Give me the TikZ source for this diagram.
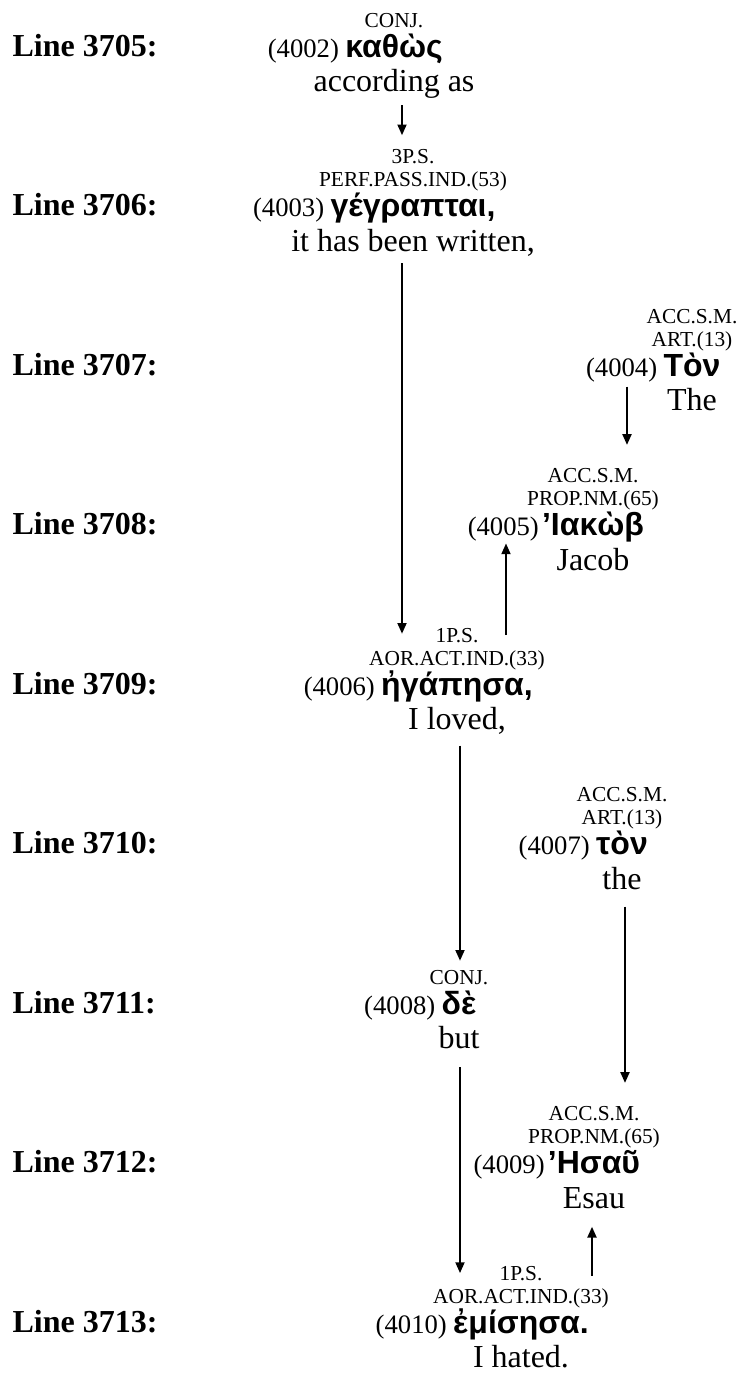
\documentclass[tikz,border=0pt]{standalone}
\usepackage{fontspec}
\setmainfont{Liberation Serif}
\newfontfamily\grk{Liberation Sans}
\usetikzlibrary{positioning,arrows.meta}

\begin{document}
\begin{tikzpicture}[x=0.375pt,y=-0.375pt,
    lbl/.style={font=\fontsize{12}{14}\selectfont\bfseries,anchor=base west,inner sep=0pt},
    wrd/.style={font=\fontsize{12}{14}\selectfont\grk\bfseries,anchor=base,inner sep=0pt},
    num/.style={font=\fontsize{10}{12}\selectfont,inner sep=0pt},
    prs/.style={font=\fontsize{8}{8.6}\selectfont,align=center,inner sep=0pt},
    gls/.style={font=\fontsize{12}{14}\selectfont,inner sep=0pt},
    arr/.style={line width=0.6pt,-{Triangle[length=4pt,width=3.4pt]}}]
  \useasboundingbox (0,0) rectangle (739,1380);

  \node[lbl] (l3705) at (12,56) {Line 3705:};
  \node[lbl] (l3706) at (12,215.5) {Line 3706:};
  \node[lbl] (l3707) at (12,375) {Line 3707:};
  \node[lbl] (l3708) at (12,534.5) {Line 3708:};
  \node[lbl] (l3709) at (12,694) {Line 3709:};
  \node[lbl] (l3710) at (12,853.5) {Line 3710:};
  \node[lbl] (l3711) at (12,1013) {Line 3711:};
  \node[lbl] (l3712) at (12,1172.5) {Line 3712:};
  \node[lbl] (l3713) at (12,1332) {Line 3713:};

  \node[wrd] (w4002) at (394,57) {καθὼς};
  \node[num, base left=2pt of w4002] (n4002) {(4002)};
  \node[prs, above=11.25pt of w4002.base, anchor=base] (p4002) {CONJ.};
  \node[gls, below=13pt of w4002.base, anchor=base] (g4002) {according as};

  \node[wrd] (w4003) at (413,216.5) {γέγραπται,};
  \node[num, base left=2pt of w4003] (n4003) {(4003)};
  \node[prs, above=11.25pt of w4003.base, anchor=base] (p4003) {3P.S.\\PERF.PASS.IND.(53)};
  \node[gls, below=13pt of w4003.base, anchor=base] (g4003) {it has been written,};

  \node[wrd] (w4004) at (692,376) {Τὸν};
  \node[num, base left=2pt of w4004] (n4004) {(4004)};
  \node[prs, above=11.25pt of w4004.base, anchor=base] (p4004) {ACC.S.M.\\ART.(13)};
  \node[gls, below=13pt of w4004.base, anchor=base] (g4004) {The};

  \node[wrd] (w4005) at (593,535.5) {’Ιακὼβ};
  \node[num, base left=0.8pt of w4005] (n4005) {(4005)};
  \node[prs, above=11.25pt of w4005.base, anchor=base] (p4005) {ACC.S.M.\\PROP.NM.(65)};
  \node[gls, below=13pt of w4005.base, anchor=base] (g4005) {Jacob};

  \node[wrd] (w4006) at (457,695) {ἠγάπησα,};
  \node[num, base left=2pt of w4006] (n4006) {(4006)};
  \node[prs, above=11.25pt of w4006.base, anchor=base] (p4006) {1P.S.\\AOR.ACT.IND.(33)};
  \node[gls, below=13pt of w4006.base, anchor=base] (g4006) {I loved,};

  \node[wrd] (w4007) at (622,854.5) {τὸν};
  \node[num, base left=2pt of w4007] (n4007) {(4007)};
  \node[prs, above=11.25pt of w4007.base, anchor=base] (p4007) {ACC.S.M.\\ART.(13)};
  \node[gls, below=13pt of w4007.base, anchor=base] (g4007) {the};

  \node[wrd] (w4008) at (459,1014) {δὲ};
  \node[num, base left=2pt of w4008] (n4008) {(4008)};
  \node[prs, above=11.25pt of w4008.base, anchor=base] (p4008) {CONJ.};
  \node[gls, below=13pt of w4008.base, anchor=base] (g4008) {but};

  \node[wrd] (w4009) at (594,1173.5) {’Ησαῦ};
  \node[num, base left=0.8pt of w4009] (n4009) {(4009)};
  \node[prs, above=11.25pt of w4009.base, anchor=base] (p4009) {ACC.S.M.\\PROP.NM.(65)};
  \node[gls, below=13pt of w4009.base, anchor=base] (g4009) {Esau};

  \node[wrd] (w4010) at (521,1333) {ἐμίσησα.};
  \node[num, base left=2pt of w4010] (n4010) {(4010)};
  \node[prs, above=11.25pt of w4010.base, anchor=base] (p4010) {1P.S.\\AOR.ACT.IND.(33)};
  \node[gls, below=13pt of w4010.base, anchor=base] (g4010) {I hated.};

  \draw[arr] ([yshift=-18pt]w4002.base -| 402,0) -- ([yshift=30.5pt]w4003.base -| 402,0);
  \draw[arr] ([yshift=-17.5pt]w4003.base -| 402,0) -- ([yshift=23pt]w4006.base -| 402,0);
  \draw[arr] ([yshift=-4pt]w4004.base -| 627,0) -- ([yshift=34pt]w4005.base -| 627,0);
  \draw[arr] ([yshift=22.5pt]w4006.base -| 506,0) -- ([yshift=-3pt]w4005.base -| 506,0);
  \draw[arr] ([yshift=-19pt]w4006.base -| 460,0) -- ([yshift=20pt]w4008.base -| 460,0);
  \draw[arr] ([yshift=-19.5pt]w4007.base -| 625,0) -- ([yshift=34pt]w4009.base -| 625,0);
  \draw[arr] ([yshift=-20pt]w4008.base -| 460,0) -- ([yshift=22.5pt]w4010.base -| 460,0);
  \draw[arr] ([yshift=21.5pt]w4010.base -| 592,0) -- ([yshift=-20pt]w4009.base -| 592,0);
\end{tikzpicture}
\end{document}
